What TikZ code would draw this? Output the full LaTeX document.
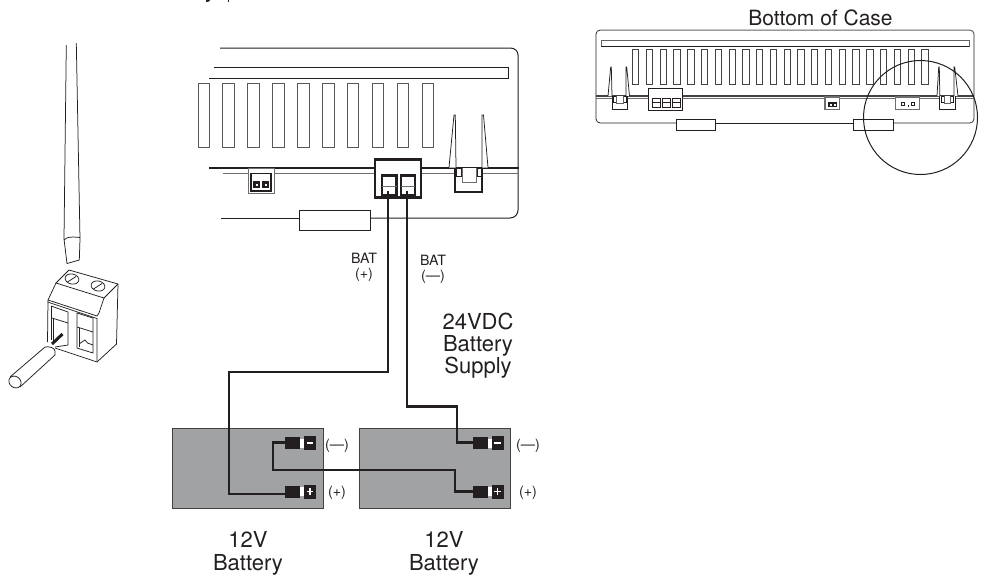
\documentclass[tikz,border=0pt]{standalone}
\usepackage{fontspec}
\setmainfont{TeX Gyre Heros}
\definecolor{batgray}{HTML}{A0A2A4}
\definecolor{ink}{HTML}{231F20}
\tikzset{
 fine/.style={draw=ink,line width=0.75pt},
 med/.style={draw=ink,line width=1pt},
 thick1/.style={draw=ink,line width=1.5pt},
 heavy/.style={draw=ink,line width=2.2pt},
 wire/.style={draw=ink,line width=2.1pt,line join=miter},
 slotgr/.style={draw=ink!75,line width=1pt,fill=white},
 bat/.style={draw=ink!85,line width=0.9pt,fill=batgray},
 lab/.style={inner sep=0pt,text=ink,align=center},
 big/.style={lab,font=\fontsize{22}{23}\selectfont},
 small/.style={lab,font=\fontsize{14.2}{15}\selectfont},
}
\begin{document}
\begin{tikzpicture}[x=1pt,y=-1pt]
\useasboundingbox (0,0) rectangle (982,574);
% clipped remains of a cropped line of text
\fill[ink] (206,0) -- (210,0) -- (209,1.5) -- (206,2) -- cycle;
\fill[ink] (227.5,0) rectangle (229.2,2);
% title
\node[lab,font=\fontsize{21}{23}\selectfont] (title) at (820.5,17.5) {Bottom of Case};
% screwdriver
\draw[fine] (66.3,45) -- (64,239) -- (67,263.5) -- (79.3,260) -- (80,239) -- (76.3,43);
\draw[fine] (64,240) .. controls (67,237) and (70,236.5) .. (80,237.5);
% terminal block iso
\draw[fine,line join=round] (69,270) -- (118,284) -- (116.5,344) -- (97,362) -- (55,348);
\draw[fine,line join=round] (69,270) -- (56,283) -- (104,298) -- (118,284);
\draw[fine,line join=round] (56,283) -- (48,300) -- (47.5,342);
\draw[fine] (48,300) -- (97,316) -- (99,313) -- (104,298);
\draw[fine] (47.5,302) -- (97,318.5) -- (97,362);
\draw[fine] (51,306) -- (68,312) -- (68,345);
\draw[fine] (51,306) -- (51,340);
\draw[fine] (77,313) -- (93,318) -- (93,353) -- (77,348) -- cycle;
\draw[fine] (52,318) -- (68,323);
\draw[fine] (77,327) -- (93,332);
\draw[fine] (53.5,319) -- (53.5,343);
\draw[fine] (79,328) -- (79,347);
\draw[fine] (79,344) -- (85,340) -- (87.5,343) -- (93,345);
\draw[fine] (55,347) -- (68,345);
\draw[fine,rotate around={-12:(72,279)}] (72,279) ellipse (7 and 5);
\draw[fine] (67.5,282) -- (76,276.5);
\draw[fine,rotate around={-12:(98,286)}] (98,286) ellipse (7 and 5);
\draw[fine] (93.5,289) -- (102,283.5);
% wire with cylinder
\fill[white] (10,377) -- (45,347) -- (55,351) -- (55,355) -- (20,387) -- cycle;
\draw[fine] (10,377) -- (45,347) .. controls (49,346) and (55,348) .. (55,351) -- (55,355) -- (20,387);
\draw[fine,fill=white,rotate around={-40:(15,382)}] (15,382) ellipse (6.5 and 5.5);
\draw[ink,line width=3pt] (52,344) -- (62.5,334);
% main case
\draw[med] (220,48) -- (510,48) .. controls (515,48) and (518,51) .. (518,55) -- (518,210) .. controls (518,214) and (515,218) .. (510,218) -- (371,218);
\draw[fine] (221,218) -- (299,218);
\draw[fine] (214,67) -- (508,67) -- (508,78) -- (209,78);
\foreach \i in {0,...,9}{
 \draw[slotgr] ({198+\i*24.9},83) rectangle ++(11.5,64);
}
\draw[thick1] (209,168) -- (375,168);
\draw[thick1] (421,168) -- (519,168);
\draw[med,draw=ink!65] (223,173) -- (375,173);
\draw[med,draw=ink!65] (421,173) -- (518,173);
\draw[med,fill=white,draw=ink!65] (248,168) rectangle (274,193);
\draw[thick1,fill=white] (251,173.5) rectangle (271,191);
\fill[ink] (253,181) rectangle (260,187.5);
\fill[ink] (262,181) rectangle (269,187.5);
\fill[white] (255.5,183.5) rectangle (257.5,185.5);
\fill[white] (264.5,183.5) rectangle (266.5,185.5);
\draw[fine,fill=white] (299,210) rectangle (370,230);
% clip
\draw[fine,fill=white] (449,167.5) -- (454,115) -- (455.3,115) -- (456,167.5);
\draw[fine,fill=white] (482,167.5) -- (482,115) -- (483.5,115) -- (488,167.5);
\draw[thick1,fill=white] (455,168) -- (455,192) -- (482,192) -- (482,168);
\draw[med,fill=white] (456,168) rectangle (461,176);
\draw[med,fill=white] (477,168) rectangle (481,176);
\draw[med,draw=ink!65,fill=white] (462,168) -- (462,182) -- (476,182) -- (476,168);
% main terminal
\draw[heavy,fill=white] (375,159.5) rectangle (421,197.5);
\draw[heavy,fill=white] (382,175.5) rectangle (396.5,195);
\draw[heavy,fill=white] (401,175.5) rectangle (415,195);
\draw[med,draw=ink!65] (382,186) -- (396.5,186);
\draw[med,draw=ink!65] (401,186) -- (415,186);
\coordinate (pa) at (388,191);
\coordinate (pb) at (407,191);
% top-right case
\draw[med,draw=ink!70] (600,30) -- (970,30) .. controls (972,30) and (974,32) .. (974,34);
\draw[fine] (974,34) -- (974,119) .. controls (974,121) and (972,123) .. (970,123) -- (893,123);
\draw[fine] (853,123) -- (715,123);
\draw[fine] (676,123) -- (600,123) .. controls (598,123) and (596,121) .. (596,119) -- (596,34) .. controls (596,32) and (598,30) .. (600,30);
\draw[fine,draw=ink!70,fill=white] (601,40.5) rectangle (969,46);
\draw[med] (601,46.3) -- (969,46.3);
\foreach \i in {0,...,21}{
 \draw[fine,draw=ink!85] ({632.5+\i*13.77},49) rectangle ++(6.3,35);
}
\draw[thick1,draw=ink!85] (596,96) -- (974,96);
\draw[fine,draw=ink!65] (596,98.7) -- (974,98.7);
% right clips
\draw[fine,fill=white] (608,96) -- (610.7,67) -- (611.3,67) -- (612,96);
\draw[fine,fill=white] (626,96) -- (626,67) -- (626.7,67) -- (629.5,96);
\draw[med,fill=white] (612,96) -- (612,109) -- (627,109) -- (627,96);
\draw[fine,fill=white] (613,96) rectangle (616,102);
\draw[fine,fill=white] (623,96) rectangle (626,102);
\draw[fine,draw=ink!70,fill=white] (616,96) -- (616,103) -- (623,103) -- (623,96);
\draw[fine,fill=white] (937,96) -- (938.7,67) -- (939.3,67) -- (939.8,96);
\draw[fine,fill=white] (954,96) -- (954,67) -- (954.7,67) -- (958,96);
\draw[med,fill=white] (939.5,96) -- (939.5,109) -- (955,109) -- (955,96);
\draw[fine,fill=white] (941,96) rectangle (944,102);
\draw[fine,fill=white] (950,96) rectangle (953,102);
\draw[fine,draw=ink!70,fill=white] (944,96) -- (944,103) -- (950,103) -- (950,96);
% three-pole terminal
\draw[med,fill=white] (648,88.5) rectangle (682.5,110);
\foreach \sx in {652,662,672}{
 \draw[med,fill=white] (\sx,98) rectangle ++(8,9.5);
 \draw[fine] (\sx,102.5) -- ++(8,0);
}
% small connectors
\draw[thick1,draw=ink!65,fill=white] (825,97) rectangle (839.5,109.5);
\fill[ink] (827.5,102) rectangle (837,107);
\fill[white] (830,104) rectangle (831.5,105.5);
\fill[white] (834,104) rectangle (835.5,105.5);
\draw[thick1,draw=ink!65,fill=white] (895.5,97) rectangle (919.5,109.5);
\fill[ink] (901,102) rectangle (905,106);
\fill[ink] (911,102) rectangle (915,106);
\fill[white] (902,103) rectangle (904,105);
\fill[white] (912,103) rectangle (914,105);
\fill[ink] (907.5,105) rectangle (908.5,107);
\draw[fine,fill=white] (676,119) rectangle (715,130);
\draw[fine,fill=white] (853,119) rectangle (893,130);
% magnifier
\coordinate (mc) at (920.5,117.5);
\draw[ink,line width=1pt] (mc) circle (57);
% batteries
\draw[bat] (172,428) rectangle (323,508);
\draw[bat] (359,428) rectangle (510,508);
% terminals
\foreach \tx/\ty in {285/443,285/491.5,473/443,473/491.5}{
 \fill[ink] (\tx,\ty-6) rectangle ++(15,12);
 \fill[white] (\tx+15,\ty-4.5) rectangle ++(3.5,9);
 \fill[ink] (\tx+18.5,\ty-7) rectangle ++(12,14);
}
\fill[white] (306.5,442.2) rectangle (313,443.8);
\fill[white] (494,442.2) rectangle (500.5,443.8);
\fill[white] (306.5,490.7) rectangle (313,492.3);
\fill[white] (309,488) rectangle (310.6,495);
\fill[white] (494,490.7) rectangle (500.5,492.3);
\fill[white] (496.5,488) rectangle (498.1,495);
\coordinate (bp1) at (286,494);
\coordinate (bn1) at (286,442.5);
\coordinate (bp2) at (474,491.5);
\coordinate (bn2) at (474,442.5);
% wires
\draw[wire] (pa) -- (388,372) -- (229,372) -- (229,494) -- (bp1);
\draw[wire] (pb) -- (407,406.5) -- (457,406.5) -- (457,442.5) -- (bn2);
\draw[wire] (bn1) -- (273,442.5) -- (273,470) -- (455,470) -- (455,491.5) -- (bp2);
% labels
\node[small] (bat1) at (364,267) {BAT\\(+)};
\node[small] (bat2) at (433,269) {BAT\\(—)};
\node[big,font=\fontsize{22}{22}\selectfont] (sup) at (478,345.5) {24VDC\\Battery\\Supply};
\node[small] (m1) at (337,446) {(—)};
\node[small] (p1) at (337,493) {(+)};
\node[small] (m2) at (528,446) {(—)};
\node[small] (p2) at (528,493) {(+)};
\node[big] (b1) at (248,553.5) {12V\\Battery};
\node[big] (b2) at (444,553.5) {12V\\Battery};
\end{tikzpicture}
\end{document}
